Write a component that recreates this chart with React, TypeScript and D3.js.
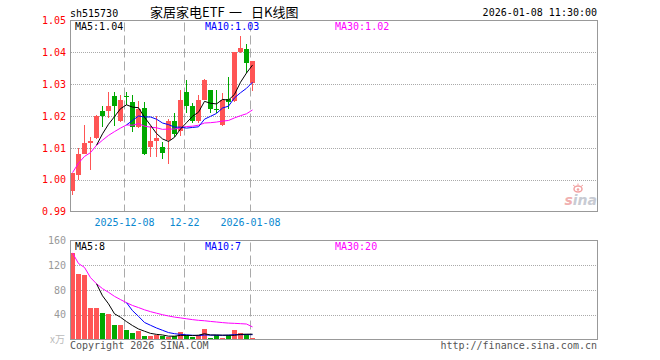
import React from 'react';
import * as d3 from 'd3';

// ---- data ----
const dates = [
  '2025-11-25', '2025-11-26', '2025-11-27', '2025-11-28', '2025-12-01', '2025-12-02', '2025-12-03', '2025-12-04',
  '2025-12-05', '2025-12-08', '2025-12-09', '2025-12-10', '2025-12-11', '2025-12-12', '2025-12-15', '2025-12-16',
  '2025-12-17', '2025-12-18', '2025-12-19', '2025-12-22', '2025-12-23', '2025-12-24', '2025-12-25', '2025-12-26',
  '2025-12-29', '2025-12-30', '2025-12-31', '2026-01-05', '2026-01-06', '2026-01-07', '2026-01-08',
];
const opens = [
  0.9964, 1.0014, 1.0082, 1.0114, 1.0131, 1.0215, 1.0215, 1.0263, 1.0183, 1.0262, 1.0243, 1.0166, 1.0225, 1.0102, 1.0123, 1.0102,
  1.0126, 1.0183, 1.0152, 1.0274, 1.0232, 1.0183, 1.0251, 1.0282, 1.0223, 1.0173, 1.0253, 1.0246, 1.0402, 1.0412, 1.0303,
];
const highs = [
  1.0022, 1.0100, 1.0173, 1.0133, 1.0203, 1.0230, 1.0274, 1.0274, 1.0265, 1.0276, 1.0267, 1.0248, 1.0243, 1.0170, 1.0200, 1.0117,
  1.0190, 1.0209, 1.0282, 1.0313, 1.0241, 1.0265, 1.0315, 1.0282, 1.0282, 1.0272, 1.0324, 1.0402, 1.0451, 1.0425, 1.0374,
];
const lows = [
  0.9951, 0.9999, 1.0082, 1.0030, 1.0129, 1.0167, 1.0194, 1.0170, 1.0180, 1.0235, 1.0150, 1.0163, 1.0079, 1.0072, 1.0072, 1.0064,
  1.0048, 1.0135, 1.0136, 1.0209, 1.0178, 1.0178, 1.0250, 1.0210, 1.0209, 1.0170, 1.0222, 1.0243, 1.0397, 1.0334, 1.0280,
];
const closes = [
  1.0022, 1.0082, 1.0114, 1.0123, 1.0201, 1.0201, 1.0232, 1.0232, 1.0251, 1.0260, 1.0165, 1.0223, 1.0082, 1.0123, 1.0131, 1.0083,
  1.0183, 1.0145, 1.0251, 1.0232, 1.0183, 1.0251, 1.0313, 1.0222, 1.0221, 1.0251, 1.0243, 1.0402, 1.0414, 1.0366, 1.0374,
];
const volumes = [
  140, 105.5, 104, 50.6, 50.6, 42.5, 40.9, 23.1, 23.1, 15, 10.2, 13.5, 5.4, 5.4, 7, 5.4,
  3.8, 5.4, 11.8, 7, 3.8, 7, 16.7, 2.2, 7, 2.2, 7, 15, 10.2, 8.6, 2.2,
];
const ma5 = [
  null, null, null, null, 1.0108, 1.0144, 1.0174, 1.0198, 1.0223, 1.0235, 1.0228, 1.0226, 1.0196, 1.0171, 1.0145, 1.0128,
  1.0120, 1.0133, 1.0159, 1.0179, 1.0199, 1.0212, 1.0246, 1.0240, 1.0238, 1.0252, 1.0250, 1.0268, 1.0306, 1.0335, 1.0360,
];
const ma10 = [
  null, null, null, null, null, null, null, null, null, 1.0172, 1.0186, 1.0200, 1.0197, 1.0197, 1.0190, 1.0178,
  1.0173, 1.0165, 1.0165, 1.0162, 1.0164, 1.0166, 1.0190, 1.0199, 1.0208, 1.0225, 1.0231, 1.0257, 1.0273, 1.0287, 1.0306,
];
const ma30 = [
  1.0022, 1.0052, 1.0073, 1.0085, 1.0108, 1.0124, 1.0139, 1.0151, 1.0162, 1.0172, 1.0171, 1.0176, 1.0168, 1.0165, 1.0163, 1.0158,
  1.0159, 1.0159, 1.0163, 1.0167, 1.0168, 1.0171, 1.0178, 1.0179, 1.0181, 1.0184, 1.0186, 1.0194, 1.0201, 1.0207, 1.0219,
];
const vma5 = [
  null, null, null, null, 90.1, 70.6, 57.7, 41.5, 36.0, 28.9, 22.5, 17.0, 13.4, 9.9, 8.3, 7.3,
  5.4, 5.4, 6.7, 6.7, 6.4, 7.0, 9.3, 7.3, 7.3, 7.0, 7.0, 6.7, 8.3, 8.6, 8.6,
];
const vma10 = [
  null, null, null, null, null, null, null, null, null, 59.5, 46.6, 37.4, 27.5, 23.0, 18.6, 14.9,
  11.2, 9.4, 8.3, 7.5, 6.9, 6.2, 7.3, 7.0, 7.0, 6.7, 7.0, 8.0, 7.8, 8.0, 7.8,
];
const vma30 = [
  140, 122.8, 116.5, 100.0, 90.1, 82.2, 76.3, 69.7, 64.5, 59.5, 55.0, 51.6, 48.0, 45.0, 42.5, 40.1,
  38.0, 36.2, 34.9, 33.5, 32.1, 31.0, 30.3, 29.2, 28.3, 27.3, 26.5, 26.1, 25.6, 25.0, 20.4,
];
const priceTicks = [1.05, 1.04, 1.03, 1.02, 1.01, 1.0, 0.99];
const volTicks = [160, 120, 80, 40];
const dateTickIdx = [9, 19, 30];
const dateTickLabels = ['2025-12-08', '12-22', '2026-01-08'];
const symbol = 'sh515730';
const titleParts = ['家居家电ETF', '一', '日K线图'];
const timestamp = '2026-01-08 11:30:00';

const UP = '#ff5555';
const DOWN = '#00a800';
const MONO = '"DejaVu Sans Mono", "Liberation Mono", monospace';

export default function App() {
  const n = closes.length;
  const x = d3.scaleLinear().domain([0, 88]).range([70, 598]);
  const yP = d3.scaleLinear().domain([0.99, 1.05]).range([211.5, 20.5]);
  const yV = d3.scaleLinear().domain([0, 160]).range([339.5, 240.5]);
  const idx = d3.range(n);

  const priceLine = (arr: (number | null)[]) =>
    d3.line<number>()
      .defined((i) => arr[i] != null)
      .x((i) => x(i) + 2.5)
      .y((i) => yP(arr[i] as number))(idx) || '';
  const volLine = (arr: (number | null)[]) =>
    d3.line<number>()
      .defined((i) => arr[i] != null)
      .x((i) => x(i) + 2.5)
      .y((i) => yV(arr[i] as number))(idx) || '';

  const last = (a: (number | null)[]) => a[a.length - 1] as number;
  const fp = (v: number) => v.toFixed(2);
  const fv = (v: number) => String(Math.floor(v));
  const titleX = [150, 229, 251];

  return (
    <svg width={660} height={360} style={{ position: 'absolute', left: 0, top: 0, background: '#fff' }}
      fontFamily={MONO} fontSize={10}>
      {/* header */}
      <text x={70} y={16.5} fill="#000">{symbol}</text>
      <text y={17} fontSize={13} fontFamily='"Noto Sans CJK SC", "Noto Sans", sans-serif' fill="#000">
        {titleParts.map((p, k) => (
          <tspan key={k} x={titleX[k]}>{p}</tspan>
        ))}
      </text>
      <text x={597} y={16} textAnchor="end" fill="#000">{timestamp}</text>

      {/* gridlines */}
      {priceTicks.slice(1, -1).map((t) => (
        <line key={'pg' + t} x1={71} x2={599} y1={Math.round(yP(t)) + 0.5} y2={Math.round(yP(t)) + 0.5}
          stroke="#aaa" strokeDasharray="1,1" />
      ))}
      {volTicks.slice(1).map((t) => (
        <line key={'vg' + t} x1={71} x2={599} y1={Math.round(yV(t)) + 0.5} y2={Math.round(yV(t)) + 0.5}
          stroke="#aaa" strokeDasharray="1,1" />
      ))}
      {dateTickIdx.map((i) => (
        <g key={'dg' + i}>
          <line x1={x(i) + 0.5} x2={x(i) + 0.5} y1={22.5} y2={211} stroke="#aaa" strokeDasharray="9,4" />
          <line x1={x(i) + 0.5} x2={x(i) + 0.5} y1={242.5} y2={339} stroke="#aaa" strokeDasharray="9,4" />
        </g>
      ))}

      {/* axis labels */}
      {priceTicks.map((t) => (
        <text key={'pl' + t} x={66} y={yP(t) + 3.7} textAnchor="end" fill="#ff0000">{t.toFixed(2)}</text>
      ))}
      {volTicks.map((t) => (
        <text key={'vl' + t} x={66} y={yV(t) + 3.7} textAnchor="end" fill="#999">{t}</text>
      ))}
      <text x={65} y={343} textAnchor="end" fill="#bbb" fontSize={10}
        fontFamily='"Noto Sans CJK SC", sans-serif'>x万</text>

      {dateTickIdx.map((i, k) => (
        <text key={'dl' + i} x={x(i) + 0.5} y={225.5} textAnchor="middle" fill="#0a88d0">{dateTickLabels[k]}</text>
      ))}

      {/* sina logo */}
      <g>
        <ellipse cx={578} cy={189} rx={4} ry={3} fill="none" stroke="#f2a3a3" strokeWidth={1.5} />
        <circle cx={578} cy={189.5} r={1.3} fill="#f2a3a3" />
        <path d="M573,185 L575,186.5 M578,183.5 L578,185.5 M583,185 L581,186.5" stroke="#f2a3a3" strokeWidth={1} />
        <text x={597} y={205} textAnchor="end" fontSize={14} fontStyle="italic" fontWeight="bold"
          fontFamily='"DejaVu Sans", sans-serif'>
          <tspan fill="#f0b0b0">s</tspan><tspan fill="#c8cbd3">ina</tspan>
        </text>
      </g>

      {/* volume bars */}
      {idx.map((i) => {
        const top = Math.round(yV(volumes[i]));
        return (
          <rect key={'vb' + i} x={x(i)} y={top} width={5} height={339 - top}
            fill={closes[i] >= opens[i] ? UP : DOWN} shapeRendering="crispEdges" />
        );
      })}

      {/* candles */}
      {idx.map((i) => {
        const up = closes[i] >= opens[i];
        const col = up ? UP : DOWN;
        const bt = Math.round(yP(Math.max(opens[i], closes[i])));
        const bb = Math.round(yP(Math.min(opens[i], closes[i])));
        const ht = Math.round(yP(highs[i]));
        const lb = Math.round(yP(lows[i]));
        return (
          <g key={'c' + i} shapeRendering="crispEdges">
            <rect x={x(i) + 2} y={ht} width={1} height={Math.max(1, lb - ht)} fill={col} />
            <rect x={x(i)} y={bt} width={5} height={Math.max(1, bb - bt)} fill={col} />
          </g>
        );
      })}

      {/* MA lines */}
      <path d={priceLine(ma30)} fill="none" stroke="#ff00ff" strokeWidth={1} />
      <path d={priceLine(ma10)} fill="none" stroke="#0000ff" strokeWidth={1} />
      <path d={priceLine(ma5)} fill="none" stroke="#000" strokeWidth={1} />
      <path d={volLine(vma30)} fill="none" stroke="#ff00ff" strokeWidth={1} />
      <path d={volLine(vma10)} fill="none" stroke="#0000ff" strokeWidth={1} />
      <path d={volLine(vma5)} fill="none" stroke="#000" strokeWidth={1} />

      {/* frames */}
      <rect x={70.5} y={20.5} width={527} height={191} fill="none" stroke="#999" />
      <rect x={70.5} y={240.5} width={527} height={99} fill="none" stroke="#999" />

      {/* MA legends */}
      <text x={75} y={29.5} fill="#000">MA5:{fp(last(ma5))}</text>
      <text x={205} y={29.5} fill="#0000ff">MA10:{fp(last(ma10))}</text>
      <text x={335} y={29.5} fill="#ff00ff">MA30:{fp(last(ma30))}</text>
      <text x={75} y={250} fill="#000">MA5:{fv(last(vma5))}</text>
      <text x={205} y={250} fill="#0000ff">MA10:{fv(last(vma10))}</text>
      <text x={335} y={250} fill="#ff00ff">MA30:{fv(last(vma30))}</text>

      {/* footer */}
      <text x={70} y={349} fill="#555">Copyright 2026 SINA.COM</text>
      <text x={597} y={349} textAnchor="end" fill="#555">http://finance.sina.com.cn</text>
      <desc>{dates[0]} – {dates[n - 1]}</desc>
    </svg>
  );
}
